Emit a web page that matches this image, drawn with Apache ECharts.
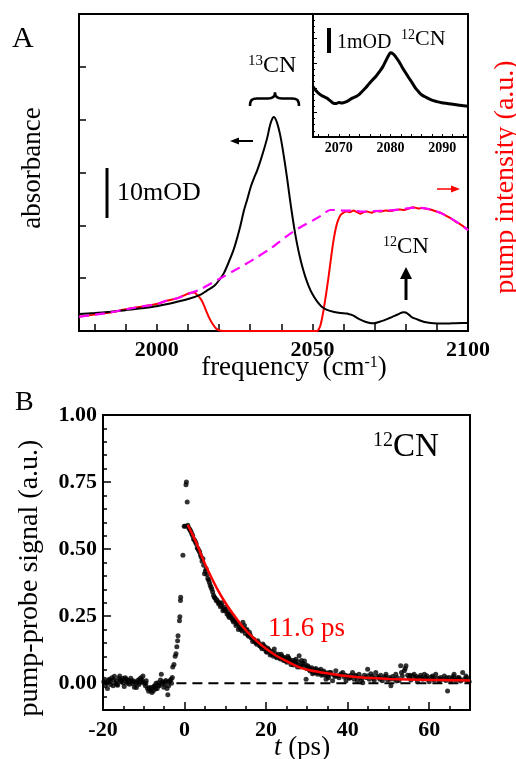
<!DOCTYPE html>
<html><head><meta charset="utf-8">
<script src="https://cdn.jsdelivr.net/npm/echarts@6/dist/echarts.min.js"></script>
<style>html,body{margin:0;padding:0;background:#fff}#c{width:516px;height:759px}</style>
</head><body><div id="c"></div>
<script>
const FONT = 'Liberation Serif';

// ---------- Panel A: absorbance (left axis, mOD-like units) ----------
const absFreq = [1975,1980,1985,1990,1995,2000,2005,2009.8,2014.1,2016,2018.4,2020,2021.6,2023.3,2024.8,2026,2026.9,2028,2029.1,2030.2,2031.2,2032.2,2033.3,2034.4,2035.5,2036.4,2037.2,2037.6,2038.1,2038.7,2039.5,2040.3,2041.1,2041.9,2042.7,2043.5,2044.3,2045.1,2045.9,2046.7,2047.7,2048.8,2050,2051.5,2053,2054.7,2057,2059,2061.1,2062,2063.2,2064.3,2065.4,2067,2068.5,2069.7,2071.3,2073,2075,2076.6,2078,2079.2,2080,2081,2082,2083.5,2085,2087,2089,2092,2095,2098,2100];
const absVal  = [3.2,3.4,3.65,3.95,4.3,4.7,5.3,6.0,6.9,7.6,8.5,9.6,11.0,13.3,15.6,18.0,20.0,22.8,25.0,27.3,28.9,30.3,32.2,34.3,36.6,39.0,40.3,40.5,40.2,39.3,37.5,35.0,32.0,28.8,25.3,22.0,19.0,16.4,14.2,12.3,10.3,8.5,7.0,5.6,4.6,4.0,3.6,3.4,3.3,3.15,2.9,2.5,2.15,1.75,1.5,1.45,1.7,2.0,2.5,2.9,3.3,3.55,3.5,3.1,2.6,2.25,1.9,1.6,1.45,1.4,1.45,1.5,1.5];

// pump intensity (right axis), measured spectrum (red)
const pumpFreq = [1975,1980,1985,1990,1995,2000,2003,2006.6,2009,2010.5,2011.4,2012.3,2013,2013.8,2014.6,2015.4,2016.2,2017,2017.8,2018.6,2019.4,2020.2,2021,2051.5,2052,2052.6,2053.1,2053.6,2054.4,2055.2,2056,2056.8,2057.5,2058.1,2059,2060,2061,2062,2063.2,2064,2065.4,2066.5,2067.5,2069,2070.5,2072,2073.5,2075,2076.5,2078,2079.5,2081,2082.5,2084,2085.5,2087,2088.5,2090,2091.5,2093,2094.5,2096,2097.5,2099,2100];
const pumpVal  = [2.7,3.1,3.5,4.1,4.6,5.1,5.7,6.2,6.8,7.2,7.3,7.2,6.8,6.3,5.6,4.5,3.35,2.3,1.46,0.8,0.3,0.08,0,0,0.3,1.1,2.4,4.0,7.0,10.3,13.9,17.2,19.4,20.7,21.9,22.4,22.6,22.5,22.8,22.6,22.2,22.5,22.6,22.4,22.7,22.6,22.8,22.7,22.9,23.0,22.9,23.2,23.4,23.2,23.3,23.1,22.9,22.6,22.3,21.8,21.3,20.7,20.2,19.6,19.1];

// pump intensity, dashed magenta curve
const pumpFitFreq = [1975,1980,1985,1990,1995,2000,2003,2006.6,2009,2011.4,2014,2020.5,2026,2031.2,2036.5,2041.9,2046,2050.4,2053,2055.8,2058,2060,2063,2066,2070,2074,2078,2082,2085,2088,2091,2094,2097,2100];
const pumpFitVal  = [2.7,3.1,3.5,4.1,4.6,5.1,5.7,6.2,6.8,7.3,7.9,10.0,11.8,13.6,15.6,18.0,19.6,21.0,21.9,22.9,22.9,22.8,22.8,22.6,22.7,22.8,23.0,23.3,23.3,23.0,22.4,21.5,20.4,19.1];

const freqTicks  = [1980,1990,2000,2010,2020,2030,2040,2050,2060,2070,2080,2090];
const freqLabels = [2000,2050,2100];

// ---------- Inset ----------
const insetFreq = [2065,2065.5,2066.4,2067,2067.7,2068.3,2068.9,2069.5,2070,2070.6,2071.4,2072,2072.6,2073.3,2073.9,2074.5,2075.2,2075.8,2076.5,2077.2,2077.8,2078.5,2079.1,2079.6,2080,2080.5,2081,2081.6,2082.2,2082.9,2083.5,2084.2,2084.8,2085.4,2086,2087,2088,2089,2089.9,2091,2091.8,2093,2094.2,2095];
const insetVal  = [2.05,1.9,1.72,1.65,1.58,1.48,1.38,1.36,1.40,1.38,1.43,1.5,1.58,1.64,1.72,1.85,2.0,2.15,2.32,2.47,2.64,2.85,3.1,3.3,3.42,3.38,3.26,3.08,2.86,2.62,2.42,2.2,2.0,1.85,1.72,1.6,1.5,1.44,1.39,1.36,1.34,1.3,1.27,1.25];
const insetTicks  = [2066,2068,2070,2072,2074,2076,2078,2080,2082,2084,2086,2088,2090,2092,2094];
const insetLabels = [2070,2080,2090];

// ---------- Panel B: pump-probe ----------
const ppPoints = [
[-19.8,0.005],[-19.5,-0.01],[-19.2,0.002],[-18.9,-0.02],[-18.6,0.012],[-18.4,0.015],[-18.1,-0.005],[-17.8,0.02],[-17.5,-0.01],[-17.2,0.026],[-16.9,0.0],[-16.7,0.009],[-16.4,-0.008],[-16.1,0.018],[-15.9,0.027],[-15.6,0.005],[-15.3,0.012],[-15.1,0.002],[-14.8,-0.012],[-14.5,0.02],[-14.3,0.015],[-14.0,0.0],[-13.7,0.01],[-13.5,-0.004],[-13.2,0.018],[-12.9,0.006],[-12.6,0.009],[-12.3,-0.015],[-12.0,0.004],[-11.8,-0.016],[-11.5,0.01],[-11.2,-0.005],[-11.0,0.002],[-10.7,0.02],[-10.4,0.012],[-10.2,0.027],[-9.9,0.0],[-9.6,-0.01],[-9.4,0.009],[-9.1,-0.02],[-8.8,-0.03],[-8.6,-0.016],[-8.3,-0.025],[-8.0,-0.035],[-7.7,-0.029],[-7.5,-0.012],[-7.3,-0.01],[-7.0,0.0],[-6.7,-0.02],[-6.5,0.002],[-6.2,-0.008],[-5.9,0.012],[-5.7,0.033],[-5.4,0.005],[-5.1,-0.015],[-4.9,-0.004],[-4.6,0.01],[-4.3,-0.02],[-4.1,-0.043],[-3.8,0.005],[-3.6,0.009],[-3.3,0.015],[-3.0,0.021],
[-2.9,0.06],[-2.6,0.07],[-2.3,0.10],[-2.1,0.11],[-1.9,0.136],[-1.7,0.158],[-1.6,0.177],[-1.25,0.233],[-1.15,0.248],[-1.0,0.308],[-0.95,0.32],[-0.4,0.477],[-0.1,0.585],[0.15,0.585],[0.35,0.74],[0.45,0.75],[0.65,0.676],
[0.8,0.589],[1.2,0.575],[1.6,0.564],[2.0,0.55],[2.45,0.533],[2.85,0.52],[3.3,0.5],[3.7,0.489],[4.1,0.47],[4.5,0.464],[4.9,0.408],[5.3,0.427],[5.7,0.39],[6.1,0.375],[6.5,0.358],[6.9,0.34],[7.3,0.32],[7.75,0.308],[8.2,0.302],[8.6,0.3],[9.0,0.29],[9.4,0.27],[9.8,0.283],[10.2,0.275],[10.6,0.264],[11.0,0.245],[11.4,0.252],[11.8,0.235],[12.2,0.239],[12.6,0.215],[13.0,0.225],[13.5,0.208],[13.9,0.2],[14.3,0.227],[14.7,0.215],[15.1,0.196],[15.5,0.18],[15.9,0.19],[16.3,0.17],[16.7,0.155],[17.1,0.16],[17.5,0.15],[17.95,0.158],[18.4,0.14],[18.8,0.135],[19.2,0.146],[19.6,0.127],[20.0,0.118],[20.4,0.13],[20.8,0.121],[21.2,0.11],[21.6,0.108],[22.0,0.127],[22.4,0.1],[22.8,0.102],[23.3,0.095],[23.7,0.108],[24.1,0.09],[24.5,0.096],[24.9,0.083],[25.3,0.1],[25.7,0.089],[26.1,0.07],[26.5,0.077],[26.9,0.085],[27.3,0.089],[27.7,0.06],[28.1,0.102],[28.5,0.065],[28.9,0.075],[29.4,0.083],[29.8,0.015],[30.2,0.065],[30.6,0.05],[31.0,0.052],[31.4,0.035],[31.8,0.046],[32.2,0.055],[32.6,0.033],[33.0,0.045],[33.4,0.052],[33.9,0.033],[34.3,0.04],[34.7,0.015],[35.1,0.027],[35.5,0.04],[35.9,0.04],[36.3,0.009],[36.7,0.03],[37.1,0.046],[37.5,0.027],[37.9,0.02],[38.4,0.035],[38.8,0.04],[39.2,0.022],[39.6,0.009],[40.0,0.027],[40.4,0.018],[40.8,0.03],[41.2,0.04],[41.6,0.015],[42.0,0.025],[42.4,0.01],[42.8,0.033],[43.2,0.02],[43.7,0.002],[44.1,0.03],[44.5,0.021],[44.9,0.052],[45.3,0.015],[45.7,0.035],[46.1,0.027],[46.5,0.01],[46.9,0.04],[47.3,0.025],[47.7,0.021],[48.1,0.03],[48.5,0.009],[49.0,0.02],[49.4,0.033],[49.8,0.012],[50.2,0.021],[50.6,-0.01],[51.0,0.025],[51.4,0.015],[51.8,0.033],[52.2,0.02],[52.6,0.01],[53.0,0.065],[53.4,0.027],[53.9,0.046],[54.3,0.065],[54.7,0.03],[55.1,0.021],[55.5,0.012],[55.9,0.028],[56.3,0.033],[56.7,0.018],[57.1,0.005],[57.5,0.021],[57.9,0.03],[58.4,0.015],[58.8,0.033],[59.2,0.02],[59.6,0.015],[60.0,0.005],[60.4,0.022],[60.8,0.027],[61.2,0.012],[61.6,0.033],[62.0,0.018],[62.4,0.008],[62.8,0.021],[63.3,0.015],[63.7,0.027],[64.1,0.01],[64.5,-0.029],[64.9,0.021],[65.3,0.005],[65.7,0.018],[66.1,0.033],[66.5,0.012],[66.9,0.02],[67.3,0.021],[67.7,0.008],[68.2,0.04],[68.6,0.015],[69.0,0.027],[69.4,0.01],[69.8,0.005]
];
const ppPointsDense = [
[-19.6,0.015],[-19.0,0.0],[-18.2,0.005],[-17.4,0.012],[-16.6,-0.005],[-15.8,0.01],[-15.0,0.018],[-14.2,0.005],[-13.4,0.008],[-12.7,-0.002],[-11.9,0.0],[-11.1,0.015],[-10.3,0.005],[-9.5,0.0],[-8.7,-0.02],[-7.9,-0.015],[-7.1,-0.022],[-6.3,-0.01],[-5.5,0.0],[-4.7,0.005],[-3.9,-0.01],[-3.2,0.0],
[1.0,0.58],[1.4,0.57],[1.8,0.556],[2.2,0.538],[2.65,0.527],[3.1,0.505],[3.5,0.495],[3.9,0.478],[4.3,0.455],[4.7,0.44],[5.1,0.418],[5.5,0.405],[5.9,0.385],[6.3,0.365],[6.7,0.35],[7.1,0.328],[7.5,0.318],[7.95,0.31],[8.4,0.295],[8.8,0.285],[9.2,0.3],[9.6,0.276],[10.0,0.27],[10.4,0.258],[10.8,0.25],[11.2,0.258],[11.6,0.242],[12.0,0.228],[12.4,0.232],[12.8,0.222],[13.2,0.2],[13.7,0.21],[14.1,0.195],[14.5,0.205],[14.9,0.185],[15.3,0.2],[15.7,0.175],[16.1,0.18],[16.5,0.168],[16.9,0.165],[17.3,0.155],[17.7,0.145],[18.2,0.15],[18.6,0.14],[19.0,0.128],[19.4,0.14],[19.8,0.135],[20.2,0.115],[20.6,0.125],[21.0,0.105],[21.4,0.118],[21.8,0.1],[22.2,0.112],[22.6,0.095],[23.0,0.108],[23.5,0.09],[23.9,0.1],[24.3,0.085],[24.7,0.09],[25.1,0.078],[25.5,0.095],[25.9,0.08],[26.3,0.085],[26.7,0.068],[27.1,0.075],[27.5,0.07],[27.9,0.08],[28.3,0.06],[28.7,0.085],[29.1,0.065],[29.6,0.07],[30.0,0.055],[30.4,0.06],[30.8,0.045],[31.2,0.058],[31.6,0.04],[32.0,0.05],[32.4,0.04],[32.8,0.048],[33.2,0.038],[33.6,0.03],[34.1,0.045],[34.5,0.03],[34.9,0.038],[35.3,0.02],[35.7,0.033],
[36.9,0.025],[38.0,0.03],[39.4,0.03],[40.6,0.02],[41.9,0.03],[43.4,0.012],[45.0,0.028],[46.3,0.018],[47.9,0.015],[49.2,0.025],[50.4,0.015],[52.0,0.008],[53.2,0.04],[54.1,0.055],[55.3,0.03],[56.9,0.025],[58.2,0.02],[59.4,0.028],[61.0,0.02],[62.6,0.015],[64.3,0.02],[65.9,0.025],[67.5,0.015],[69.2,0.02]
];
const fitTime   = [0.8,2,3,4,5.3,6.5,8,10,11.8,14,16,18,20,22,25,28,31,34,38,42,46,50,55,60,65,70];
const fitSignal = [0.59,0.553,0.52,0.482,0.435,0.397,0.352,0.3,0.26,0.215,0.182,0.153,0.128,0.107,0.082,0.06,0.047,0.039,0.03,0.023,0.019,0.016,0.014,0.012,0.011,0.01];
const zeroTime = [-2, 70];
const zeroSignal = [0, 0];
const timeLabels   = [-20,0,20,40,60];
const signalLabels = [0,0.25,0.5,0.75,1];

const zip = (a,b) => a.map((v,i)=>[v,b[i]]);

const tickStyle = {color:'#000', width:1.5};
const noLine = {show:false, onZero:false};
const boldLabel = (size, margin, fmt) => ({fontFamily:FONT, fontWeight:'bold', fontSize:size, color:'#000', margin, formatter:fmt || (v=>String(v))});

const txt = (x, y, text, size, o={}) => ({
  type:'text', x, y, rotation:o.rot||0, z:100,
  style:{text, fill:o.color||'#000', fontFamily:FONT, fontSize:size, fontStyle:o.italic?'italic':'normal',
    textAlign:o.align||'left', textVerticalAlign:'middle', align:o.align||'left', verticalAlign:'middle', rich:o.rich}
});
const supRich = (big, small, color) => ({
  n:{fontFamily:FONT, fontSize:big, color:color||'#000'},
  s:{fontFamily:FONT, fontSize:small, color:color||'#000', verticalAlign:'top'}
});
const bez = (x1,y1,c1x,c1y,c2x,c2y,x2,y2) => ({type:'bezierCurve', z:100,
  shape:{x1,y1,cpx1:c1x,cpy1:c1y,cpx2:c2x,cpy2:c2y,x2,y2}, style:{fill:null, stroke:'#000', lineWidth:2.5}});
const seg = (x1,y1,x2,y2,color,w) => ({type:'line', z:100, shape:{x1,y1,x2,y2}, style:{stroke:color, lineWidth:w}});

const chart = echarts.init(document.getElementById('c'), null, {renderer:'canvas'});
chart.setOption({
  animation:false,
  backgroundColor:'#fff',
  grid:[
    {left:79, top:14, width:389, height:317, show:true, borderColor:'#000', borderWidth:2, backgroundColor:'transparent'},
    {left:313, top:14, width:155, height:123, show:true, borderColor:'#000', borderWidth:2, backgroundColor:'#fff'},
    {left:103, top:415, width:367, height:295, show:true, borderColor:'#000', borderWidth:2, backgroundColor:'transparent'},
    {left:103, top:415, width:367, height:295, show:false}
  ],
  xAxis:[
    {gridIndex:0, type:'value', min:1975, max:2100, axisLine:noLine, splitLine:{show:false},
     axisTick:{inside:true, length:7, lineStyle:tickStyle, customValues:freqTicks},
     axisLabel:Object.assign({customValues:freqLabels}, boldLabel(22,8))},
    {gridIndex:1, type:'value', min:2065, max:2095, axisLine:noLine, splitLine:{show:false},
     axisTick:{inside:true, length:3, lineStyle:{color:'#000',width:1}, customValues:insetTicks},
     axisLabel:Object.assign({customValues:insetLabels}, boldLabel(14,4))},
    {gridIndex:2, type:'value', min:-20, max:70, interval:5, axisLine:noLine, splitLine:{show:false},
     axisTick:{inside:true, length:4, lineStyle:tickStyle},
     axisLabel:Object.assign({customValues:timeLabels}, boldLabel(22,9))},
    {gridIndex:3, type:'value', min:-20, max:70, axisLine:noLine, splitLine:{show:false},
     axisTick:{inside:true, length:8, lineStyle:tickStyle, customValues:timeLabels},
     axisLabel:{show:false}}
  ],
  yAxis:[
    {gridIndex:0, type:'value', min:0, max:60, interval:10, axisLine:noLine, splitLine:{show:false},
     axisTick:{inside:true, length:7, lineStyle:tickStyle}, axisLabel:{show:false}},
    {gridIndex:0, type:'value', position:'right', min:0, max:60, axisLine:noLine, splitLine:{show:false},
     axisTick:{show:false}, axisLabel:{show:false}},
    {gridIndex:1, type:'value', min:0, max:5, interval:1, axisLine:noLine, splitLine:{show:false},
     axisTick:{inside:true, length:4, lineStyle:{color:'#000',width:1}},
     minorTick:{show:true, splitNumber:4, length:2, lineStyle:{color:'#000',width:1}},
     axisLabel:{show:false}},
    {gridIndex:2, type:'value', min:-0.1, max:1.0, interval:0.05, axisLine:noLine, splitLine:{show:false},
     axisTick:{inside:true, length:4, lineStyle:tickStyle},
     axisLabel:Object.assign({customValues:signalLabels}, boldLabel(22,6,v=>v.toFixed(2)))},
    {gridIndex:3, type:'value', min:-0.1, max:1.0, axisLine:noLine, splitLine:{show:false},
     axisTick:{inside:true, length:8, lineStyle:tickStyle, customValues:signalLabels},
     axisLabel:{show:false}}
  ],
  series:[
    {type:'line', xAxisIndex:0, yAxisIndex:1, data:zip(pumpFreq,pumpVal), showSymbol:false, smooth:0.2,
     lineStyle:{color:'#ff0000', width:2}, z:2},
    {type:'line', xAxisIndex:0, yAxisIndex:0, data:zip(absFreq,absVal), showSymbol:false, smooth:0.3,
     lineStyle:{color:'#000', width:2}, z:3},
    {type:'line', xAxisIndex:0, yAxisIndex:1, data:zip(pumpFitFreq,pumpFitVal), showSymbol:false, smooth:0.3,
     lineStyle:{color:'#ff00ff', width:2.2, type:[10,6]}, z:4},
    {type:'line', xAxisIndex:1, yAxisIndex:2, data:zip(insetFreq,insetVal), showSymbol:false, smooth:0.3,
     lineStyle:{color:'#000', width:3}, z:5},
    {type:'line', xAxisIndex:2, yAxisIndex:3, data:zip(zeroTime,zeroSignal), showSymbol:false,
     lineStyle:{color:'#000', width:2, type:[10,6]}, z:1},
    {type:'scatter', xAxisIndex:2, yAxisIndex:3, data:ppPoints.concat(ppPointsDense), symbol:'circle', symbolSize:5,
     itemStyle:{color:'#000'}, z:2},
    {type:'line', xAxisIndex:2, yAxisIndex:3, data:zip(fitTime,fitSignal), showSymbol:false, smooth:0.3,
     lineStyle:{color:'#ff0000', width:2.5}, z:3}
  ],
  graphic:[
    txt(12, 39, 'A', 30),
    txt(15, 403, 'B', 28),
    txt(33, 168, 'absorbance', 27, {rot:Math.PI/2, align:'center'}),
    txt(506, 177, 'pump intensity (a.u.)', 28, {rot:Math.PI/2, align:'center', color:'#ff0000'}),
    txt(294, 368, '{n|frequency  (cm}{s|-1}{n|)}', 27, {align:'center', rich:supRich(27,16)}),
    txt(30, 578, 'pump-probe signal (a.u.)', 28, {rot:Math.PI/2, align:'center'}),
    txt(302, 748, '{i|t}{n| (ps)}', 27, {align:'center', rich:{i:{fontFamily:FONT,fontSize:27,fontStyle:'italic',color:'#000'}, n:{fontFamily:FONT,fontSize:27,color:'#000'}}}),
    txt(268, 629, '11.6 ps', 27, {color:'#ff0000'}),
    txt(373, 447, '{s|12}{n|CN}', 33, {rich:supRich(33,20)}),
    txt(248, 66, '{s|13}{n|CN}', 24, {rich:supRich(24,15)}),
    txt(383, 247, '{s|12}{n|CN}', 23, {rich:supRich(23,14)}),
    txt(117, 193, '10mOD', 26),
    txt(337, 43, '1mOD', 20),
    txt(401, 39, '{s|12}{n|CN}', 22, {rich:supRich(22,14)}),
    // scale bars
    seg(107,168,107,218,'#000',3),
    seg(329,28,329,53,'#000',4),
    // up arrow
    seg(406,300,406,277,'#000',3),
    {type:'polygon', z:100, shape:{points:[[400,279],[412,279],[406,267]]}, style:{fill:'#000'}},
    // black left arrow
    seg(238,141,253,141,'#000',2),
    {type:'polygon', z:100, shape:{points:[[230,141],[239,137.5],[239,144.5]]}, style:{fill:'#000'}},
    // red right arrow
    seg(437,189,452,189,'#ff0000',1.5),
    {type:'polygon', z:100, shape:{points:[[460,189],[451,185.5],[451,192.5]]}, style:{fill:'#ff0000'}},
    // brace
    bez(250,106, 250,100, 252,98.5, 257,98.5),
    seg(257,98.5,268,98.5,'#000',2.5),
    bez(268,98.5, 273,98.5, 275,96, 275,92.5),
    bez(275,92.5, 275,96, 277,98.5, 282,98.5),
    seg(282,98.5,292,98.5,'#000',2.5),
    bez(292,98.5, 297,98.5, 299,100, 299,106)
  ]
});
</script></body></html>
